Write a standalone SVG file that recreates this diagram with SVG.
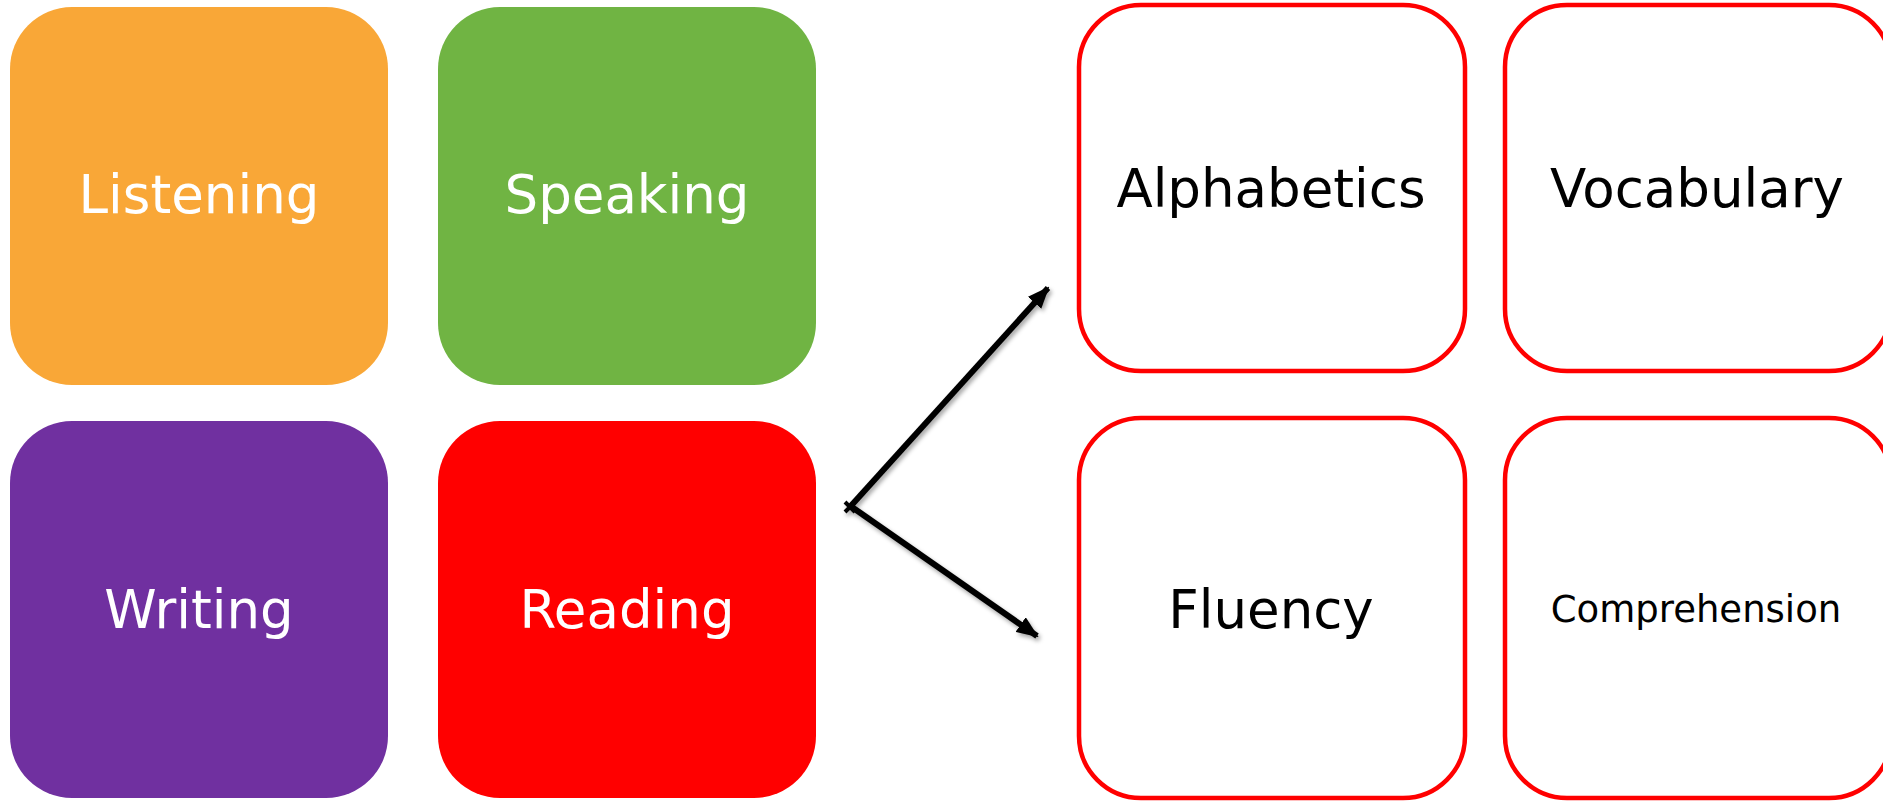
<svg xmlns="http://www.w3.org/2000/svg" width="1883" height="801" viewBox="0 0 1883 801">
<style>
.lbl{font-family:"DejaVu Sans","Verdana",sans-serif;text-anchor:middle}
.w{fill:#ffffff;font-size:53px}
.b{fill:#000000;font-size:53px}
.out{fill:#ffffff;stroke:#ff0000;stroke-width:4.5}
.conn{stroke:#000;stroke-width:6;fill:none;stroke-linecap:butt}
</style>
<defs>
<marker id="ah" markerUnits="userSpaceOnUse" markerWidth="22" markerHeight="18" refX="20" refY="9" orient="auto">
<path d="M0,0 L22,9 L0,18 Z" fill="#000"/>
</marker>
<filter id="sh" x="-10%" y="-10%" width="120%" height="120%">
<feDropShadow dx="2" dy="3" stdDeviation="2" flood-color="#000" flood-opacity="0.35"/>
</filter>
</defs>
<g id="listening"><rect x="10" y="7" width="378" height="378" rx="62" fill="#F9A737"/><text class="lbl w" x="199" y="213">Listening</text></g>
<g id="speaking"><rect x="438" y="7" width="378" height="378" rx="62" fill="#70B443"/><text class="lbl w" x="627" y="213">Speaking</text></g>
<g id="writing"><rect x="10" y="421" width="378" height="377" rx="62" fill="#7030A0"/><text class="lbl w" x="199" y="628">Writing</text></g>
<g id="reading"><rect x="438" y="421" width="378" height="377" rx="62" fill="#FF0000"/><text class="lbl w" x="627" y="628">Reading</text></g>
<g id="alphabetics"><rect class="out" x="1079" y="5" width="386" height="366" rx="62"/><text class="lbl b" x="1271" y="207">Alphabetics</text></g>
<g id="vocabulary"><rect class="out" x="1505" y="5" width="386" height="366" rx="62"/><text class="lbl b" x="1697" y="207">Vocabulary</text></g>
<g id="fluency"><rect class="out" x="1079" y="418" width="386" height="380" rx="62"/><text class="lbl b" x="1271" y="628">Fluency</text></g>
<g id="comprehension"><rect class="out" x="1505" y="418" width="386" height="380" rx="62"/><text class="lbl b" x="1696" y="622" style="font-size:37px">Comprehension</text></g>
<g id="connectors" filter="url(#sh)">
<line class="conn" x1="849" y1="508" x2="1048" y2="288" marker-end="url(#ah)"/>
<line class="conn" x1="849" y1="505" x2="1037" y2="636" marker-end="url(#ah)"/>
<path d="M845,502 L855,512 M845,512 L855,502" stroke="#000" stroke-width="4"/>
</g>
</svg>
